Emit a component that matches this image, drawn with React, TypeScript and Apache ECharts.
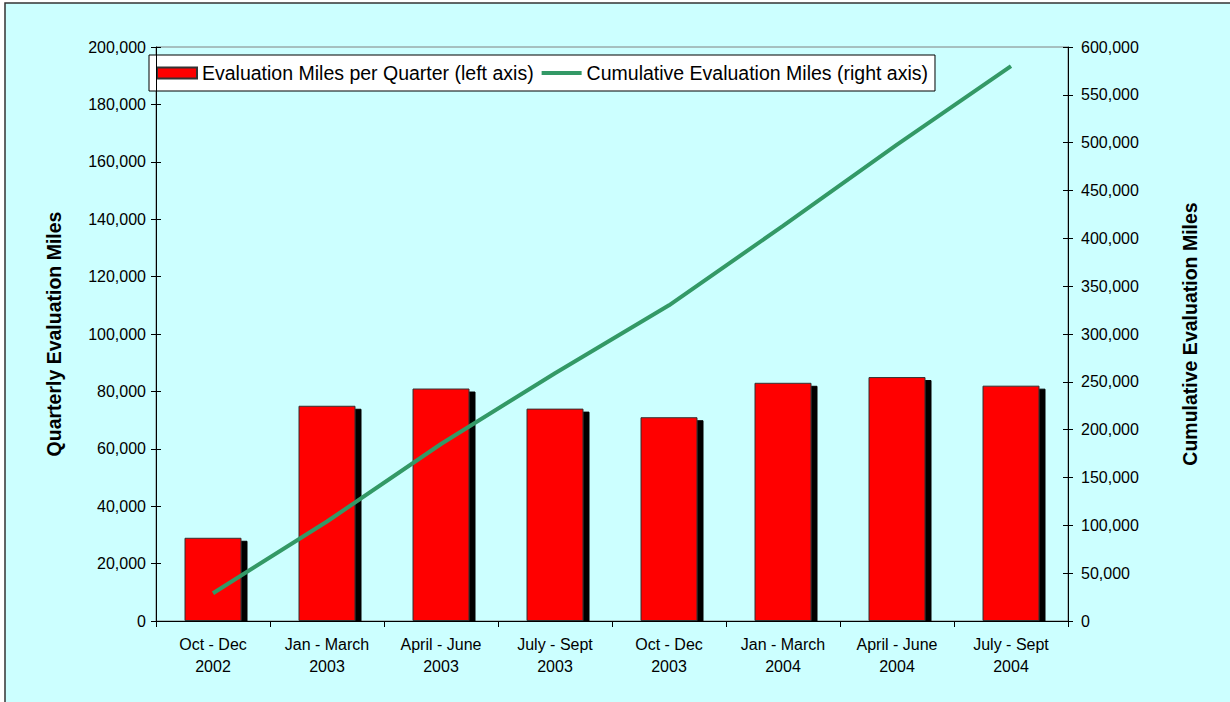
import React, { useEffect, useRef } from "react";
import * as echarts from "echarts";

const categories = [
  "Oct - Dec\n2002",
  "Jan - March\n2003",
  "April - June\n2003",
  "July - Sept\n2003",
  "Oct - Dec\n2003",
  "Jan - March\n2004",
  "April - June\n2004",
  "July - Sept\n2004",
];
const quarterlyMiles = [29000, 75000, 81000, 74000, 71000, 83000, 85000, 82000];
const cumulativeMiles = [29000, 104000, 185000, 259000, 330000, 413000, 498000, 580000];

const FONT = "'Liberation Sans', Arial, sans-serif";
const fmt = (v: number) => v.toLocaleString("en-US");

export default function App() {
  const ref = useRef<HTMLDivElement>(null);
  useEffect(() => {
    if (!ref.current) return;
    const chart = echarts.init(ref.current, null, { renderer: "svg" });
    const leftBase = {
      type: "value" as const,
      min: 0,
      max: 200000,
      interval: 20000,
      splitLine: { show: false },
      z: 4,
    };
    const rightBase = {
      type: "value" as const,
      min: 0,
      max: 600000,
      interval: 50000,
      splitLine: { show: false },
      z: 4,
    };
    chart.setOption({
      animation: false,
      backgroundColor: "#ffffff",
      textStyle: { fontFamily: FONT },
      graphic: [
        {
          type: "rect",
          z: -10,
          silent: true,
          shape: { x: 5, y: 3, width: 1400, height: 900 },
          style: { fill: "#CCFFFF", stroke: "#333333", lineWidth: 1.5 },
        },
        {
          type: "rect",
          z: 3,
          silent: true,
          shape: { x: 157, y: 621.5, width: 910, height: 5 },
          style: { fill: "#CCFFFF" },
        },
      ],
      grid: {
        left: 156,
        right: 162,
        top: 47,
        bottom: 81,
        show: true,
        borderColor: "#808080",
        borderWidth: 1,
        backgroundColor: "transparent",
      },
      legend: {
        left: 149,
        top: 55,
        backgroundColor: "#ffffff",
        borderColor: "#000000",
        borderWidth: 1,
        padding: [8, 7],
        itemGap: 6,
        itemWidth: 40,
        itemHeight: 11,
        textStyle: { fontSize: 19.5, color: "#000", fontFamily: FONT, lineHeight: 19 },
        data: [
          { name: "Evaluation Miles per Quarter (left axis)", icon: "rect" },
          {
            name: "Cumulative Evaluation Miles (right axis)",
            itemStyle: { opacity: 0 },
            lineStyle: { width: 4, color: "#339966" },
          },
        ],
      },
      xAxis: {
        type: "category",
        data: categories,
        boundaryGap: true,
        z: 4,
        axisLine: { lineStyle: { color: "#000", width: 1 } },
        axisTick: { show: true, length: 6, lineStyle: { color: "#000" } },
        axisLabel: {
          color: "#000",
          fontSize: 16,
          lineHeight: 22,
          margin: 12,
          fontFamily: FONT,
          interval: 0,
        },
      },
      yAxis: [
        {
          ...leftBase,
          position: "left",
          name: "Quarterly Evaluation Miles",
          nameLocation: "middle",
          nameGap: 92,
          nameTextStyle: { fontSize: 19.5, fontWeight: "bold", color: "#000", fontFamily: FONT },
          axisLine: { show: true, lineStyle: { color: "#000" } },
          axisTick: { show: true, length: 5, lineStyle: { color: "#000" } },
          axisLabel: { color: "#000", fontSize: 16, margin: 10, formatter: fmt, fontFamily: FONT },
        },
        {
          ...rightBase,
          position: "right",
          name: "Cumulative Evaluation Miles",
          nameLocation: "middle",
          nameGap: 112,
          nameRotate: 90,
          nameTextStyle: { fontSize: 19.5, fontWeight: "bold", color: "#000", fontFamily: FONT },
          axisLine: { show: true, lineStyle: { color: "#000" } },
          axisTick: { show: true, length: 5, lineStyle: { color: "#000" } },
          axisLabel: { color: "#000", fontSize: 16, margin: 13, formatter: fmt, fontFamily: FONT },
        },
        {
          ...leftBase,
          position: "left",
          axisLine: { show: false },
          axisTick: { show: true, inside: true, length: 5, lineStyle: { color: "#000" } },
          axisLabel: { show: false },
        },
        {
          ...rightBase,
          position: "right",
          axisLine: { show: false },
          axisTick: { show: true, inside: true, length: 5, lineStyle: { color: "#000" } },
          axisLabel: { show: false },
        },
      ],
      series: [
        {
          name: "Evaluation Miles per Quarter (left axis)",
          type: "bar",
          yAxisIndex: 0,
          data: quarterlyMiles,
          barWidth: "50%",
          itemStyle: {
            color: "#FF0000",
            borderColor: "#333333",
            borderWidth: 1,
            shadowColor: "#000000",
            shadowBlur: 0,
            shadowOffsetX: 6,
            shadowOffsetY: 3,
          },
        },
        {
          name: "Cumulative Evaluation Miles (right axis)",
          type: "line",
          yAxisIndex: 1,
          data: cumulativeMiles,
          symbol: "none",
          showSymbol: false,
          lineStyle: { color: "#339966", width: 4 },
          itemStyle: { color: "#339966" },
          z: 5,
        },
      ],
    });
    return () => chart.dispose();
  }, []);
  return (
    <div
      ref={ref}
      style={{ position: "absolute", left: 0, top: 0, width: 1230, height: 702 }}
    />
  );
}
